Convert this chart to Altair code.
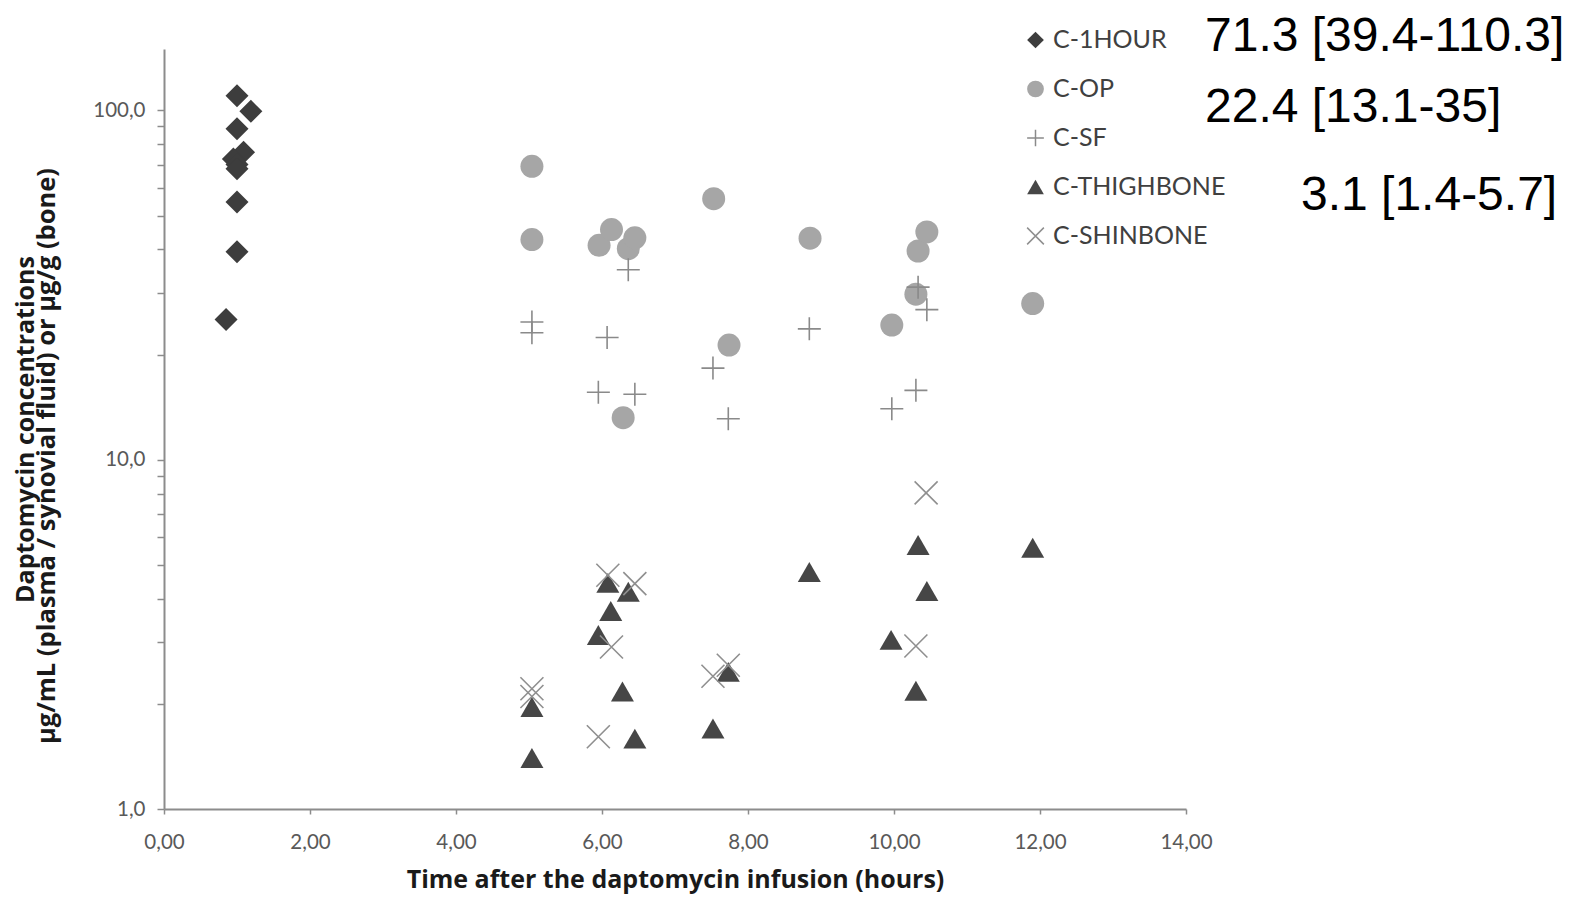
import altair as alt
import pandas as pd

# Series names in legend / drawing order
series_names = ["C-1HOUR", "C-OP", "C-SF", "C-THIGHBONE", "C-SHINBONE"]

# Time after infusion (hours) and concentration for each series
hour_time = [1.00, 1.19, 1.00, 1.09, 0.95, 1.00, 1.00, 1.00, 1.00, 0.85]
hour_conc = [110.3, 99.5, 88.7, 76.0, 72.6, 70.0, 68.1, 54.7, 39.4, 25.2]

op_time = [5.04, 5.04, 5.96, 6.13, 6.29, 6.36, 6.45, 7.53, 7.74, 8.85, 9.97, 10.30, 10.33, 10.45, 11.90]
op_conc = [69.2, 42.7, 41.1, 45.6, 13.2, 40.2, 43.2, 55.9, 21.3, 43.1, 24.3, 29.8, 39.6, 44.9, 28.0]

sf_time = [5.04, 5.04, 5.95, 6.07, 6.36, 6.45, 7.52, 7.73, 8.84, 9.97, 10.30, 10.33, 10.45]
sf_conc = [24.8, 23.1, 15.6, 22.4, 35.0, 15.4, 18.3, 13.1, 23.7, 14.0, 15.8, 31.2, 26.9]

thigh_time = [5.04, 5.04, 5.95, 6.08, 6.12, 6.28, 6.36, 6.45, 7.52, 7.73, 8.84, 9.96, 10.30, 10.33, 10.45, 11.90]
thigh_conc = [1.96, 1.40, 3.15, 4.44, 3.69, 2.17, 4.19, 1.59, 1.70, 2.47, 4.77, 3.05, 2.18, 5.70, 4.21, 5.60]

shin_time = [5.04, 5.04, 5.95, 6.08, 6.13, 6.45, 7.52, 7.73, 10.30, 10.44]
shin_conc = [2.21, 2.10, 1.61, 4.67, 2.91, 4.42, 2.40, 2.58, 2.93, 8.04]

# Summary annotations: median [range]
summary_texts = ["71.3 [39.4-110.3]", "22.4 [13.1-35]", "3.1 [1.4-5.7]"]

# Axis titles
x_title = "Time after the daptomycin infusion (hours)"
y_title = "Daptomycin concentrations"
y_units = "µg/mL (plasma / synovial fluid) or µg/g (bone)"

x_ticks = [0, 2, 4, 6, 8, 10, 12, 14]
y_ticks = [1, 2, 3, 4, 5, 6, 7, 8, 9, 10, 20, 30, 40, 50, 60, 70, 80, 90, 100]

times = [hour_time, op_time, sf_time, thigh_time, shin_time]
concs = [hour_conc, op_conc, sf_conc, thigh_conc, shin_conc]
df = pd.concat(
    [pd.DataFrame({"series": n, "time": t, "conc": c}) for n, t, c in zip(series_names, times, concs)],
    ignore_index=True,
)

PLUS = "M-1,0L1,0M0,-1L0,1"
CROSS = "M-1,-1L1,1M-1,1L1,-1"

W, H = 1022, 760
PAD_L, PAD_T = 164, 49
TITLE_FONT = "Open Sans"
TITLE_COLOR = "#1a1a1a"

legend = alt.Legend(
    title=None, orient="none", legendX=859, legendY=-21.5,
    symbolSize=280, symbolStrokeWidth=1.5,
    labelFont="Lato", labelFontSize=25, labelColor="#404040", labelLimit=400,
    rowPadding=23, labelOffset=5, padding=0,
)

shape_scale = alt.Scale(domain=series_names, range=["diamond", "circle", PLUS, "triangle-up", CROSS])
fill_scale = alt.Scale(domain=series_names, range=["#3d3d3d", "#a6a6a6", "transparent", "#464646", "transparent"])
stroke_scale = alt.Scale(domain=series_names, range=["transparent", "transparent", "#8a8a8a", "transparent", "#8f8f8f"])

axis_common = dict(
    grid=False, domainColor="#8c8c8c", domainWidth=2, tickColor="#8c8c8c", tickWidth=1.5,
    labelFont="Lato", labelFontSize=20.5, labelColor="#595959", labelFlush=False,
    titleFont=TITLE_FONT, titleFontSize=25, titleFontWeight="bold", titleColor=TITLE_COLOR,
)

points = alt.Chart(df).mark_point(size=529, opacity=1, strokeWidth=1.6, filled=False).encode(
    x=alt.X(
        "time:Q",
        scale=alt.Scale(domain=[0, 14], nice=False, zero=False),
        axis=alt.Axis(
            values=x_ticks, tickSize=5, labelPadding=18,
            labelExpr="replace(format(datum.value, '.2f'), '.', ',')",
            title=x_title, titlePadding=15,
            **axis_common,
        ),
    ),
    y=alt.Y(
        "conc:Q",
        scale=alt.Scale(type="log", domain=[1, 150], nice=False, zero=False),
        axis=alt.Axis(
            values=y_ticks, tickSize=7, labelPadding=12,
            labelExpr="(datum.value == 1 || datum.value == 10 || datum.value == 100) ? replace(format(datum.value, '.1f'), '.', ',') : ''",
            title=y_title,
            titleAngle=-90, titleX=-139, titleY=H / 2, titleAlign="center", titleBaseline="middle",
            **axis_common,
        ),
    ),
    shape=alt.Shape("series:N", scale=shape_scale, legend=legend),
    fill=alt.Fill("series:N", scale=fill_scale, legend=legend),
    stroke=alt.Stroke("series:N", scale=stroke_scale, legend=legend),
)

# Second line of the y-axis title (units)
units = alt.Chart(pd.DataFrame({"label": [y_units]})).mark_text(
    font=TITLE_FONT, fontSize=25.5, fontWeight="bold", color=TITLE_COLOR,
    angle=270, align="center", baseline="middle",
).encode(text="label:N", x=alt.value(-117), y=alt.value(407))

text_base = alt.Chart(pd.DataFrame({"label": summary_texts})).mark_text(
    font="Liberation Sans", fontSize=48, color="#000000", align="left", baseline="alphabetic"
)
ann1 = text_base.transform_filter(alt.datum.label == summary_texts[0]).encode(
    text="label:N", x=alt.value(1041), y=alt.value(2))
ann2 = text_base.transform_filter(alt.datum.label == summary_texts[1]).encode(
    text="label:N", x=alt.value(1041), y=alt.value(73))
ann3 = text_base.transform_filter(alt.datum.label == summary_texts[2]).encode(
    text="label:N", x=alt.value(1137), y=alt.value(161))

chart = alt.layer(points, units, ann1, ann2, ann3).properties(
    width=W, height=H,
    autosize=alt.AutoSizeParams(type="none"),
    padding={"left": PAD_L, "top": PAD_T, "right": 1579 - PAD_L - W, "bottom": 899 - PAD_T - H},
    background="white",
).configure_view(stroke=None)

chart.save("out.html", embed_options={"renderer": "svg", "actions": False})
